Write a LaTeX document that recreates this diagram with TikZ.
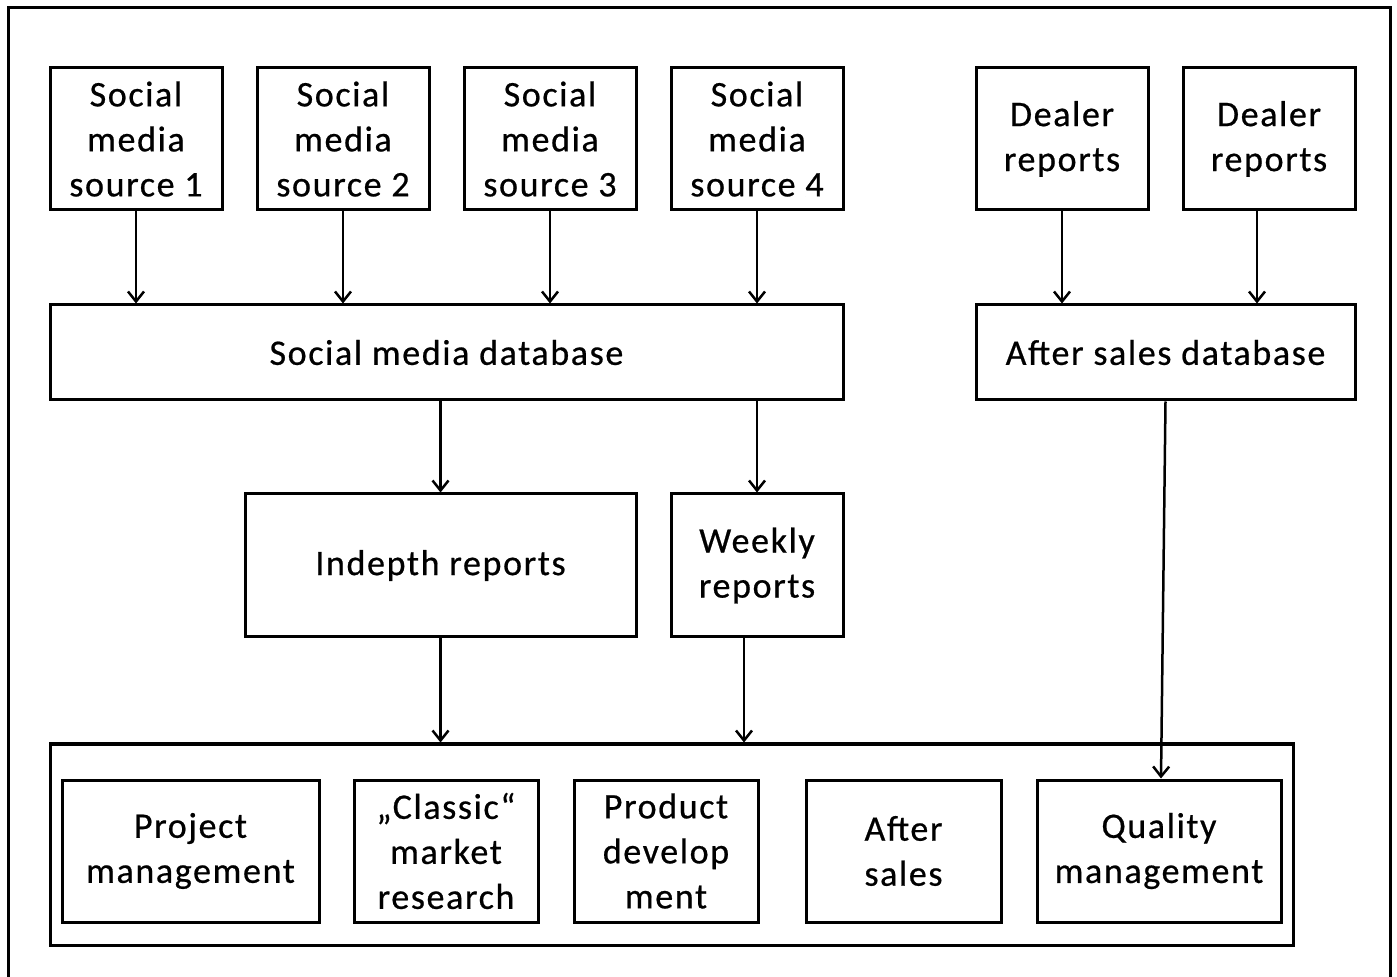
\documentclass[tikz,border=0pt]{standalone}
\usepackage{fontspec}
\setmainfont{Carlito}[LetterSpace=4.5,FakeBold=0.6]
\usetikzlibrary{arrows.meta}
\begin{document}
\begin{tikzpicture}[x=0.5pt,y=-0.5pt,
  box/.style={draw,line width=1.5pt,inner sep=0pt,align=center,font=\fontsize{18}{22.5}\selectfont},
  arr/.style={line width=1.25pt,-{Straight Barb[length=5pt,width=8pt,line width=1.25pt]}}]
\useasboundingbox (0,0) rectangle (1397,977);
\draw[line width=1.5pt] (8,990) -- (8,8) -- (1390,8) -- (1390,990);
% top sources
\node[box,minimum width=172*0.5pt,minimum height=142*0.5pt] (s1) at (136,139) {Social\\media\\source 1};
\node[box,minimum width=172*0.5pt,minimum height=142*0.5pt] (s2) at (343,139) {Social\\media\\source 2};
\node[box,minimum width=172*0.5pt,minimum height=142*0.5pt] (s3) at (550,139) {Social\\media\\source 3};
\node[box,minimum width=172*0.5pt,minimum height=142*0.5pt] (s4) at (757,139) {Social\\media\\source 4};
\node[box,minimum width=172*0.5pt,minimum height=142*0.5pt] (d1) at (1062,139) {Dealer\\reports};
\node[box,minimum width=172*0.5pt,minimum height=142*0.5pt] (d2) at (1269,139) {Dealer\\reports};
% databases
\node[box,minimum width=793*0.5pt,minimum height=95*0.5pt] (smdb) at (446.5,352.5) {Social media database};
\node[box,minimum width=379*0.5pt,minimum height=95*0.5pt] (asdb) at (1165.5,352.5) {After sales database};
% reports
\node[box,minimum width=391*0.5pt,minimum height=143*0.5pt] (ind) at (440.5,565.5) {Indepth reports};
\node[box,minimum width=172*0.5pt,minimum height=143*0.5pt] (wk) at (757,565.5) {Weekly\\reports};
% group
\node[box,minimum width=1243*0.5pt,minimum height=201*0.5pt] (grp) at (671.5,844.5) {};
\node[box,minimum width=257*0.5pt,minimum height=142*0.5pt] (pm) at (190.5,851) {Project\\management};
\node[box,minimum width=184*0.5pt,minimum height=142*0.5pt] (cm) at (446,851) {„Classic“\\market\\research};
\node[box,minimum width=184*0.5pt,minimum height=142*0.5pt] (pd) at (666,851) {Product\\develop\\ment};
\node[box,minimum width=195*0.5pt,minimum height=142*0.5pt] (as) at (903.5,851) {After\\sales};
\node[box,minimum width=244*0.5pt,minimum height=142*0.5pt] (qm) at (1159,851) {Quality\\management};
% arrows
\foreach \n in {s1,s2,s3,s4}
  \draw[arr] (\n.south) -- (\n.south |- smdb.north);
\draw[arr] (d1.south) -- (d1.south |- asdb.north);
\draw[arr] ([xshift=-6pt]d2.south) -- ([xshift=-6pt]d2.south |- asdb.north);
\draw[arr] (ind.north |- smdb.south) -- (ind.north);
\draw[arr] (wk.north |- smdb.south) -- (wk.north);
\draw[arr] (ind.south) -- (ind.south |- grp.north);
\draw[arr] ([xshift=-6.5pt]wk.south) -- ([xshift=-6.5pt]wk.south |- grp.north);
\draw[arr] (asdb.south) -- ([xshift=1pt]qm.north);
\end{tikzpicture}
\end{document}
